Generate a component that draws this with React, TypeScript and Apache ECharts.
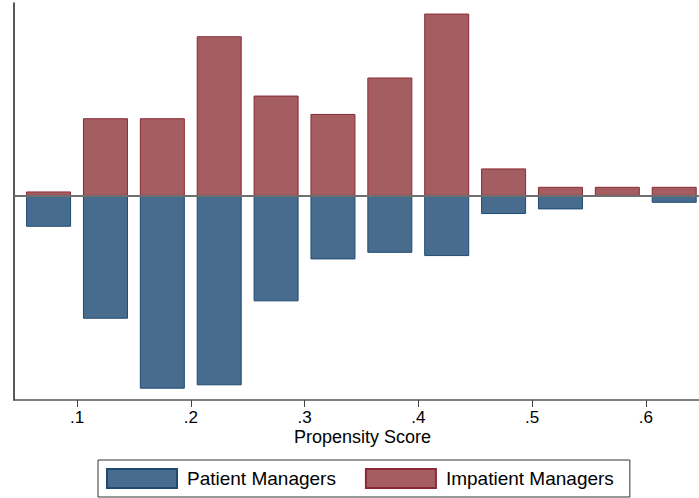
import React, { useEffect, useRef } from "react";
import * as echarts from "echarts";

// Bin centres (propensity score)
const binCenters = [0.075, 0.125, 0.175, 0.225, 0.275, 0.325, 0.375, 0.425, 0.475, 0.525, 0.575, 0.625];
// Percent of group in each bin
const impatientValues = [0.51, 9.03, 9.03, 18.57, 11.67, 9.53, 13.77, 21.21, 3.19, 1.05, 1.05, 1.05];
const patientValues = [3.6, 14.3, 22.44, 22.05, 12.28, 7.4, 6.63, 7.01, 2.12, 1.58, 0, 0.81];
const tickValues = [0.1, 0.2, 0.3, 0.4, 0.5, 0.6];
const tickLabels = [".1", ".2", ".3", ".4", ".5", ".6"];
const xAxisTitle = "Propensity Score";
const seriesNames = ["Patient Managers", "Impatient Managers"];

const FONT = "'Liberation Sans', Arial, Helvetica, sans-serif";

export default function App() {
  const ref = useRef<HTMLDivElement>(null);
  useEffect(() => {
    if (!ref.current) return;
    const chart = echarts.init(ref.current, undefined, { renderer: "svg" });
    chart.setOption({
      animation: false,
      backgroundColor: "#ffffff",
      grid: { left: 14, right: 0, top: 3, bottom: 98, containLabel: false },
      xAxis: {
        type: "value",
        min: 0.0446,
        max: 0.6468,
        splitLine: { show: false },
        axisLine: { show: true, onZero: false, lineStyle: { color: "#555555", width: 1.5 } },
        axisTick: {
          show: true,
          customValues: tickValues,
          length: 7,
          lineStyle: { color: "#444444", width: 1 },
        },
        axisLabel: {
          show: true,
          customValues: tickValues,
          margin: 9,
          color: "#000000",
          fontSize: 17,
          fontFamily: FONT,
          formatter: (v: number) => {
            const i = tickValues.findIndex((t) => Math.abs(t - v) < 1e-6);
            return i >= 0 ? tickLabels[i] : "";
          },
        },
      },
      yAxis: {
        type: "value",
        min: -23.76,
        max: 22.44,
        splitLine: { show: false },
        axisLine: { show: true, onZero: false, lineStyle: { color: "#222222", width: 1.5 } },
        axisTick: { show: false },
        axisLabel: { show: false },
      },
      legend: {
        data: seriesNames,
        left: 98,
        top: 460,
        orient: "horizontal",
        icon: "rect",
        itemWidth: 70,
        itemHeight: 19,
        itemGap: 29,
        padding: [8, 16, 8, 8],
        borderColor: "#333333",
        borderWidth: 1,
        backgroundColor: "#ffffff",
        textStyle: {
          color: "#000000",
          fontSize: 19,
          fontFamily: FONT,
          lineHeight: 19,
          padding: [0, 0, 0, 5],
        },
      },
      graphic: [
        {
          type: "text",
          x: 362.5,
          y: 437,
          style: {
            text: xAxisTitle,
            fill: "#000000",
            font: `18px ${FONT}`,
            textAlign: "center",
            textVerticalAlign: "middle",
          },
        },
      ],
      series: [
        {
          name: seriesNames[0],
          type: "bar",
          stack: "hist",
          barWidth: 45,
          data: binCenters.map((x, i) => [x, -patientValues[i]]),
          itemStyle: { color: "#486c8d", borderColor: "#1f4a73", borderWidth: 1 },
        },
        {
          name: seriesNames[1],
          type: "bar",
          stack: "hist",
          barWidth: 45,
          data: binCenters.map((x, i) => [x, impatientValues[i]]),
          itemStyle: { color: "#a45e62", borderColor: "#8b2a35", borderWidth: 1 },
          markLine: {
            silent: true,
            symbol: "none",
            label: { show: false },
            lineStyle: { color: "#6f6f6f", width: 2, type: "solid" },
            data: [{ yAxis: 0 }],
          },
        },
      ],
    });
    return () => chart.dispose();
  }, []);
  return (
    <div
      ref={ref}
      style={{ position: "fixed", left: 0, top: 0, width: 699, height: 498 }}
    />
  );
}
